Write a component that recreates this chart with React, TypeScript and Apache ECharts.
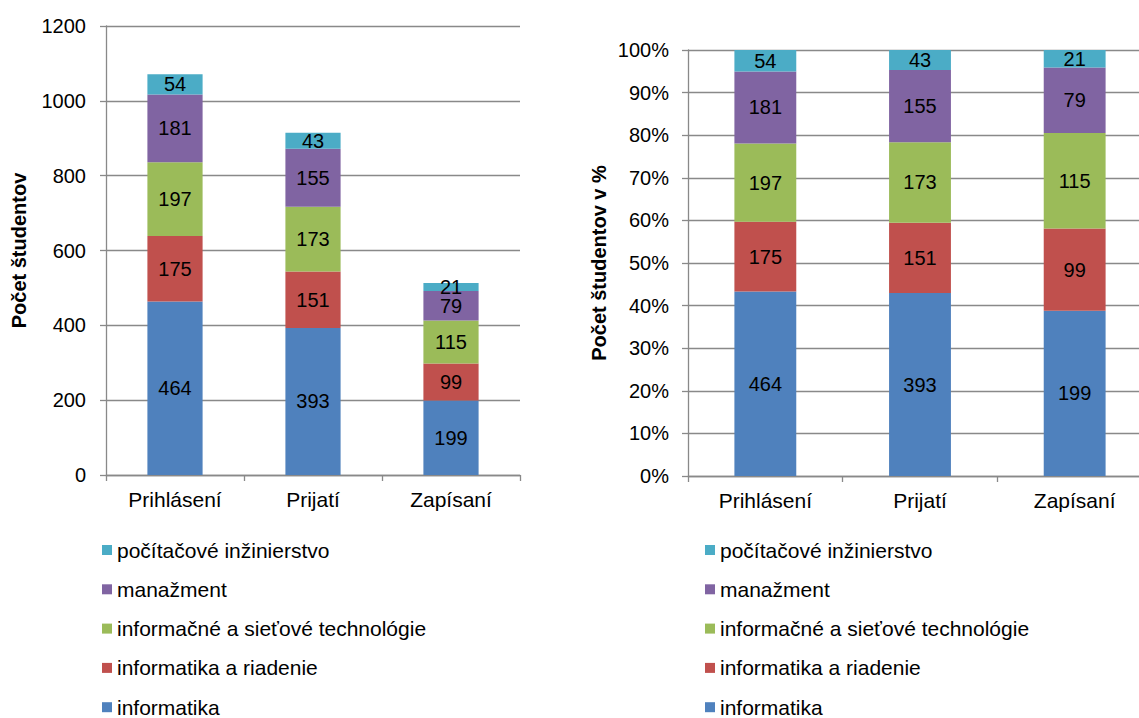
import React, { useEffect, useRef } from "react";
import * as echarts from "echarts";

// Admission stages
const stages = ["Prihlásení", "Prijatí", "Zapísaní"];

// Students per study programme at each stage
const informatika = [464, 393, 199];
const informatikaRiadenie = [175, 151, 99];
const infoSietove = [197, 173, 115];
const manazment = [181, 155, 79];
const pocitacoveInz = [54, 43, 21];

const seriesDefs = [
  { name: "informatika", values: informatika, color: "#4F81BD" },
  { name: "informatika a riadenie", values: informatikaRiadenie, color: "#C0504D" },
  { name: "informačné a sieťové technológie", values: infoSietove, color: "#9BBB59" },
  { name: "manažment", values: manazment, color: "#8064A2" },
  { name: "počítačové inžinierstvo", values: pocitacoveInz, color: "#4BACC6" },
];

// Legend lists the programmes from top of the stack down
const legendOrder = seriesDefs.map((s) => s.name).reverse();

const FONT = "Liberation Sans, Arial, Helvetica, sans-serif";
const GRID_COLOR = "#898989";

export default function App() {
  const ref = useRef<HTMLDivElement>(null);

  useEffect(() => {
    if (!ref.current) return;
    const chart = echarts.init(ref.current, null, { renderer: "svg" });

    const totals = stages.map((_, i) =>
      seriesDefs.reduce((acc, s) => acc + s.values[i], 0)
    );

    const labelStyle = {
      show: true,
      position: "inside" as const,
      color: "#000",
      fontFamily: FONT,
      fontSize: 20,
    };

    const countSeries = seriesDefs.map((s) => ({
      name: s.name,
      type: "bar" as const,
      stack: "count",
      xAxisIndex: 0,
      yAxisIndex: 0,
      barWidth: "40%",
      itemStyle: { color: s.color },
      label: { ...labelStyle, formatter: (p: any) => String(s.values[p.dataIndex]) },
      data: s.values,
    }));

    const shareSeries = seriesDefs.map((s) => ({
      name: s.name,
      type: "bar" as const,
      stack: "share",
      xAxisIndex: 1,
      yAxisIndex: 1,
      barWidth: "40%",
      itemStyle: { color: s.color },
      label: { ...labelStyle, formatter: (p: any) => String(s.values[p.dataIndex]) },
      data: s.values.map((v, i) => (v / totals[i]) * 100),
    }));

    const xAxisBase = {
      type: "category" as const,
      data: stages,
      axisLine: { lineStyle: { color: GRID_COLOR, width: 1.3 } },
      axisTick: { show: true, length: 6, lineStyle: { color: GRID_COLOR, width: 1.3 } },
      axisLabel: { color: "#000", fontFamily: FONT, fontSize: 21, margin: 14 },
    };

    const yAxisBase = {
      type: "value" as const,
      axisLine: { show: true, lineStyle: { color: GRID_COLOR, width: 1.3 } },
      axisTick: { show: true, length: 6, lineStyle: { color: GRID_COLOR, width: 1.3 } },
      splitLine: { show: true, lineStyle: { color: GRID_COLOR, width: 1.3 } },
      nameLocation: "middle" as const,
      nameTextStyle: { color: "#000", fontFamily: FONT, fontSize: 20, fontWeight: "bold" as const },
    };

    const legendBase = {
      orient: "vertical" as const,
      top: 539.5,
      padding: 0,
      itemWidth: 10,
      itemHeight: 10,
      itemGap: 18.3,
      icon: "rect",
      data: legendOrder,
      textStyle: { color: "#000", fontFamily: FONT, fontSize: 21, lineHeight: 21 },
      selectedMode: false,
    };

    chart.setOption({
      animation: false,
      textStyle: { fontFamily: FONT },
      grid: [
        { left: 106, right: 632, top: 26, bottom: 243 },
        { left: 688, right: 0, top: 50, bottom: 242 },
      ],
      legend: [
        { ...legendBase, left: 102 },
        { ...legendBase, left: 705 },
      ],
      xAxis: [
        { ...xAxisBase, gridIndex: 0 },
        { ...xAxisBase, gridIndex: 1 },
      ],
      yAxis: [
        {
          ...yAxisBase,
          gridIndex: 0,
          min: 0,
          max: 1200,
          interval: 200,
          name: "Počet študentov",
          nameGap: 77,
          axisLabel: {
            color: "#000",
            fontFamily: FONT,
            fontSize: 20,
            margin: 20,
            formatter: (v: number) => String(v),
          },
        },
        {
          ...yAxisBase,
          gridIndex: 1,
          min: 0,
          max: 100,
          interval: 10,
          name: "Počet študentov v %",
          nameGap: 79,
          axisLabel: {
            color: "#000",
            fontFamily: FONT,
            fontSize: 20,
            margin: 19,
            formatter: "{value}%",
          },
        },
      ],
      series: [...countSeries, ...shareSeries],
    });

    return () => chart.dispose();
  }, []);

  // The right-hand plot runs slightly past the visible frame and is clipped by it
  return (
    <div
      style={{
        position: "fixed",
        left: 0,
        top: 0,
        width: 1139,
        height: 718,
        overflow: "hidden",
        background: "#fff",
      }}
    >
      <div ref={ref} style={{ width: 1152, height: 718 }} />
    </div>
  );
}
